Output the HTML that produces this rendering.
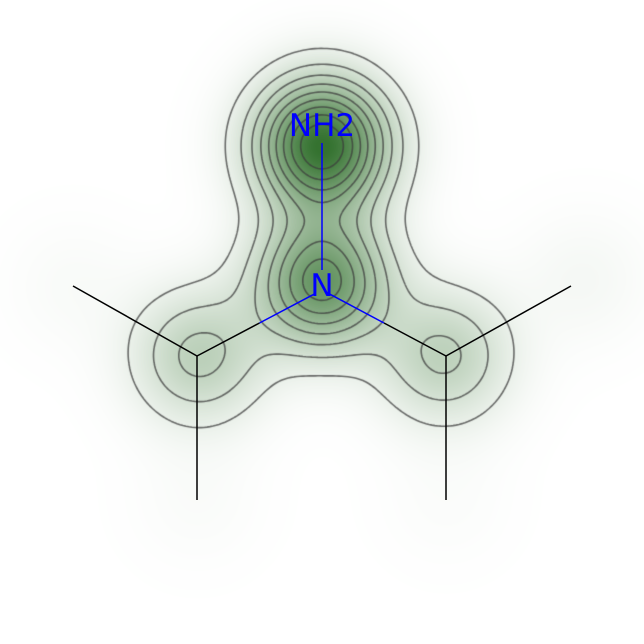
<!DOCTYPE html>
<html><head><meta charset="utf-8"><style>
html,body{margin:0;padding:0;background:#fff;}
#wrap{position:relative;width:644px;height:644px;}
canvas,svg{position:absolute;left:0;top:0;}
</style></head><body>
<div id="wrap">
<canvas id="cv" width="644" height="644"></canvas>
<svg id="sv" width="644" height="644">
<g id="bonds"></g>
<text x="322" y="136" text-anchor="middle" font-family="'DejaVu Sans','Liberation Sans',sans-serif" font-size="31" fill="#0000ff">NH2</text>
<text x="322" y="296" text-anchor="middle" font-family="'DejaVu Sans','Liberation Sans',sans-serif" font-size="31" fill="#0000ff">N</text>
</svg>
</div>
<script>
// atom data
const atomX = [322, 322, 199, 444, 73, 197, 571, 446, 590];
const atomY = [145, 282, 356, 356, 286, 500, 286, 500, 275];
const atomW = [1.0, 0.75, 0.33, 0.32, 0.03, 0.025, 0.02, 0.02, 0.03];
const levels = [0.1, 0.2, 0.3, 0.4, 0.5, 0.6, 0.7, 0.8, 0.9];
const SIG = 45;

function field(x, y) {
  let f = 0;
  for (let i = 0; i < atomX.length; i++) {
    const dx = x - atomX[i], dy = y - atomY[i];
    f += atomW[i] * Math.exp(-(dx*dx+dy*dy)/(2*SIG*SIG));
  }
  return f;
}
const cv = document.getElementById('cv');
const ctx = cv.getContext('2d');
const img = ctx.createImageData(644, 644);
for (let y = 0; y < 644; y++) for (let x = 0; x < 644; x++) {
  const f = field(x, y);
  const t = Math.min(1, f) * 0.88;
  const k = (y*644+x)*4;
  img.data[k] = 255 + (25-255)*t;
  img.data[k+1] = 255 + (95-255)*t;
  img.data[k+2] = 255 + (20-255)*t;
  img.data[k+3] = 255;
}
ctx.putImageData(img, 0, 0);
// contours (marching squares)
const S = 3, N = Math.ceil(644/S)+1;
const g = [];
for (let j = 0; j < N; j++) { g.push([]); for (let i = 0; i < N; i++) g[j].push(field(i*S, j*S)); }
ctx.strokeStyle = 'rgba(60,60,60,0.75)';
ctx.lineWidth = 1.6;
ctx.beginPath();
levels.forEach(L => {
  for (let j = 0; j < N-1; j++) for (let i = 0; i < N-1; i++) {
    const a = g[j][i], b = g[j][i+1], c = g[j+1][i+1], d = g[j+1][i];
    const pts = [];
    const x0 = i*S, y0 = j*S;
    if ((a<L)!==(b<L)) pts.push([x0+S*(L-a)/(b-a), y0]);
    if ((b<L)!==(c<L)) pts.push([x0+S, y0+S*(L-b)/(c-b)]);
    if ((d<L)!==(c<L)) pts.push([x0+S*(L-d)/(c-d), y0+S]);
    if ((a<L)!==(d<L)) pts.push([x0, y0+S*(L-a)/(d-a)]);
    for (let p = 0; p+1 < pts.length; p += 2) { ctx.moveTo(pts[p][0], pts[p][1]); ctx.lineTo(pts[p+1][0], pts[p+1][1]); }
  }
});
ctx.stroke();
// bonds
const bondA = [1, 1, 1, 2, 2, 3, 3];
const bondB = [0, 2, 3, 4, 5, 6, 7];
const bg = document.getElementById('bonds');
function line(x1,y1,x2,y2,col,name){
  const l = document.createElementNS('http://www.w3.org/2000/svg','line');
  l.setAttribute('x1',x1);l.setAttribute('y1',y1);l.setAttribute('x2',x2);l.setAttribute('y2',y2);
  l.setAttribute('stroke',col);l.setAttribute('stroke-width','1.5');
  
  
  bg.appendChild(l);
}
const bx = [322, 322, 197, 446, 73, 197, 571, 446];
const by = [143, 290, 356, 356, 286, 500, 286, 500];
for (let k = 0; k < bondA.length; k++) {
  const a = bondA[k], b = bondB[k];
  let x1 = bx[a], y1 = by[a], x2 = bx[b], y2 = by[b];
  if (b === 0) { line(322, 270, 322, 143, '#0000ff', 'bond-n-nh2'); continue; }
  if (a === 1) {
    const mx = (x1+x2)/2, my = (y1+y2)/2;
    line(x1+(x2-x1)*0.06, y1+(y2-y1)*0.06, mx, my, '#0000ff', 'bond-n-c-half');
    line(mx, my, x2, y2, '#000000', 'bond-c-half');
  } else line(x1, y1, x2, y2, '#000000', 'bond-c-c');
}
</script>
</body></html>
